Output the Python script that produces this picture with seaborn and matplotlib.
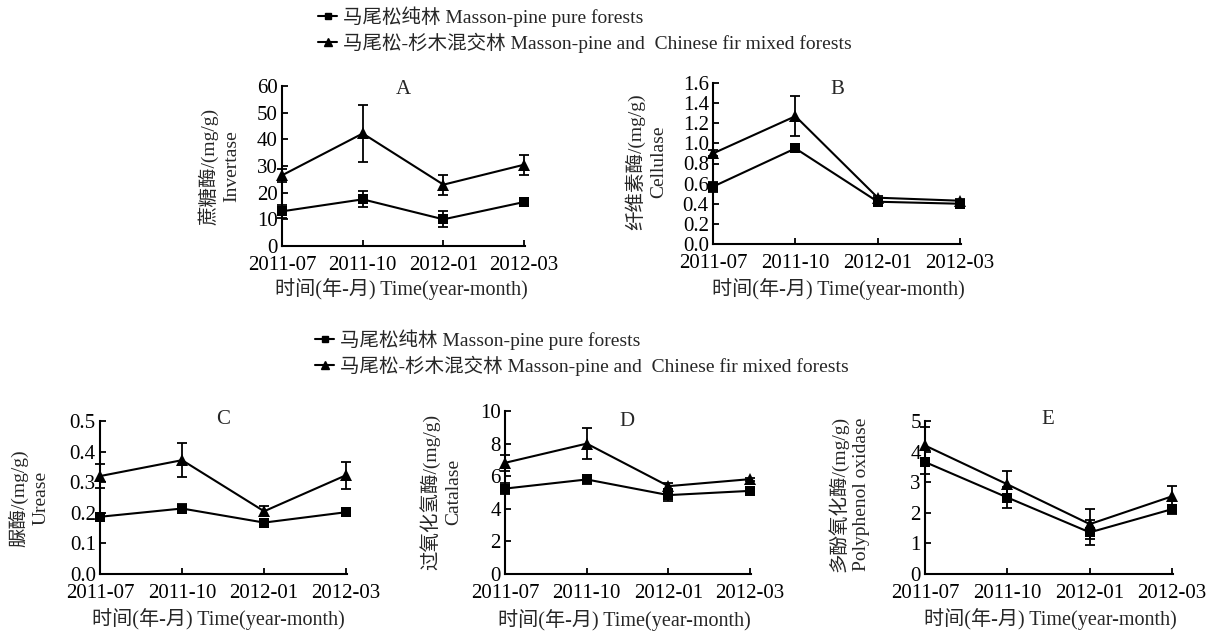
import matplotlib
matplotlib.use("Agg")
import matplotlib.pyplot as plt
from matplotlib.lines import Line2D
import seaborn as sns
import numpy as np
import pandas as pd

# ---------------- data ----------------
times = ["2011-07", "2011-10", "2012-01", "2012-03"]
series_names = ["马尾松纯林 Masson-pine pure forests",
                "马尾松-杉木混交林 Masson-pine and  Chinese fir mixed forests"]

A_pure = [13.0, 17.5, 10.0, 16.5]
A_pure_err = [2.5, 3.0, 3.0, 1.5]
A_mix = [26.5, 42.2, 23.0, 30.5]
A_mix_err = [2.5, 10.8, 3.7, 3.7]

B_pure = [0.57, 0.95, 0.42, 0.40]
B_pure_err = [0.05, 0.02, 0.02, 0.02]
B_mix = [0.90, 1.27, 0.46, 0.43]
B_mix_err = [0.03, 0.20, 0.02, 0.02]

C_pure = [0.187, 0.214, 0.168, 0.202]
C_pure_err = [0.005, 0.015, 0.005, 0.005]
C_mix = [0.32, 0.372, 0.205, 0.323]
C_mix_err = [0.04, 0.056, 0.017, 0.044]

D_pure = [5.24, 5.80, 4.84, 5.10]
D_pure_err = [0.35, 0.25, 0.35, 0.10]
D_mix = [6.82, 8.00, 5.39, 5.82]
D_mix_err = [0.50, 0.95, 0.20, 0.10]

E_pure = [3.66, 2.50, 1.36, 2.12]
E_pure_err = [0.40, 0.33, 0.40, 0.15]
E_mix = [4.20, 2.93, 1.63, 2.54]
E_mix_err = [0.60, 0.42, 0.50, 0.33]

panel_letters = ["A", "B", "C", "D", "E"]
ylabels = ["蔗糖酶/(mg/g)\nInvertase",
           "纤维素酶/(mg/g)\nCellulase",
           "脲酶/(mg/g)\nUrease",
           "过氧化氢酶/(mg/g)\nCatalase",
           "多酚氧化酶/(mg/g)\nPolyphenol oxidase"]
xlabel_text = "时间(年-月) Time(year-month)"
ylims = [(0, 60), (0, 1.6), (0, 0.5), (0, 10), (0, 5)]
yticks = [np.arange(0, 61, 10), np.round(np.arange(0, 1.61, 0.2), 1),
          np.round(np.arange(0, 0.51, 0.1), 1), np.arange(0, 11, 2), np.arange(0, 6, 1)]

# ---------------- style ----------------
sns.set_style("ticks")
plt.rcParams["font.family"] = ["Liberation Serif", "Noto Sans CJK SC"]
plt.rcParams["axes.linewidth"] = 1.5
plt.rcParams["axes.edgecolor"] = "black"

W, H = 1230, 639
fig = plt.figure(figsize=(W / 100, H / 100), dpi=100)

def fx(px):
    return px / W

def fy(py):
    return 1 - py / H

# axes boxes in pixels: left, top, right, bottom
boxes = [(282, 86, 525, 246),
         (713, 83, 961, 244),
         (100, 421, 347, 574),
         (505, 411, 751, 574),
         (925, 421, 1173, 574)]
title_pos = [(403, 90), (837, 89), (223, 419), (627, 421), (1048, 419)]
xlabel_pos = [(401, 289), (838, 289), (218, 619), (624, 620), (1050, 619)]
ylabel_pos = [(219, 166), (646, 162), (29, 498), (441, 492), (849, 494)]

data = [(A_pure, A_pure_err, A_mix, A_mix_err),
        (B_pure, B_pure_err, B_mix, B_mix_err),
        (C_pure, C_pure_err, C_mix, C_mix_err),
        (D_pure, D_pure_err, D_mix, D_mix_err),
        (E_pure, E_pure_err, E_mix, E_mix_err)]

xidx = np.arange(len(times))

for i, (l, t, r, b) in enumerate(boxes):
    ax = fig.add_axes([fx(l), fy(b), fx(r) - fx(l), fy(t) - fy(b)])
    pure, pure_err, mix, mix_err = data[i]
    df = pd.DataFrame({"t": np.concatenate([xidx, xidx]),
                       "v": np.concatenate([pure, mix]),
                       "s": ["pure"] * 4 + ["mix"] * 4})
    for key, mk, ms, vals, errs in [("mix", "^", 8.5, mix, mix_err),
                                    ("pure", "s", 7.5, pure, pure_err)]:
        sub = df[df["s"] == key]
        sns.lineplot(data=sub, x="t", y="v", ax=ax, color="black", marker=mk,
                     markersize=ms, markeredgewidth=0, linewidth=1.5,
                     clip_on=False, zorder=3)
        ax.errorbar(sub["t"], sub["v"], yerr=errs, fmt="none", ecolor="black",
                    elinewidth=1.3, capsize=3.5, capthick=1.3, clip_on=False, zorder=3)
    ax.set_xlim(0, 3.01)
    ax.set_ylim(*ylims[i])
    ax.set_yticks(yticks[i])
    ax.set_xticks(xidx)
    ax.set_xticklabels(times)
    ax.tick_params(direction="in", length=4, width=1.3, labelsize=15,
                   colors="black")
    ax.tick_params(axis="x", pad=7)
    ax.tick_params(axis="y", pad=3)
    sns.despine(ax=ax)
    ax.set_xlabel(xlabel_text, fontsize=14.5, va="center")
    ax.xaxis.set_label_coords(fx(xlabel_pos[i][0]), fy(xlabel_pos[i][1]),
                              transform=fig.transFigure)
    ax.set_ylabel(ylabels[i], fontsize=14, va="center", ha="center",
                  linespacing=1.35)
    ax.yaxis.set_label_coords(fx(ylabel_pos[i][0]), fy(ylabel_pos[i][1]),
                              transform=fig.transFigure)
    fig.text(fx(title_pos[i][0]), fy(title_pos[i][1]), panel_letters[i],
             fontsize=15, ha="center", va="center")

handles = [Line2D([0], [0], color="black", lw=1.5, marker="s", markersize=5),
           Line2D([0], [0], color="black", lw=1.5, marker="^", markersize=6)]

for (hx, ty) in [(318, 6), (315, 329)]:
    fig.legend(handles, series_names, loc="upper left",
               bbox_to_anchor=(fx(hx), fy(ty)), frameon=False, fontsize=14,
               borderpad=0, borderaxespad=0, handlelength=1.0,
               handletextpad=0.3, labelspacing=0.32)

fig.savefig("out.png", dpi=100)
